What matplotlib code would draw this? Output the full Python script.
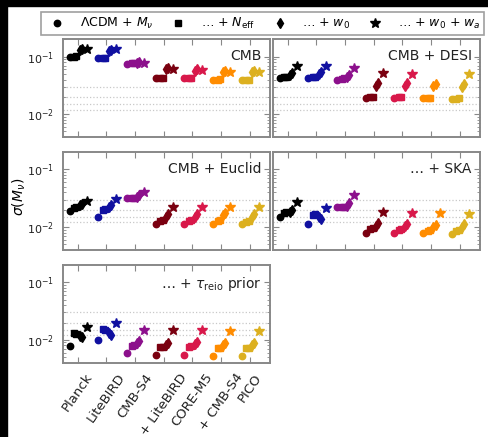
import numpy as np
import matplotlib
matplotlib.use("Agg")
import matplotlib.pyplot as plt
from matplotlib.patches import Rectangle

experiments = ["Planck", "LiteBIRD", "CMB-S4", "+ LiteBIRD", "CORE-M5", "+ CMB-S4", "PICO"]
colors = ["#000000", "#1010a0", "#8c108c", "#7a0010", "#d8184a", "#ff8c00", "#dcb020"]

# rows: circle, square, square, diamond, diamond, star  /  columns: experiments
cmb = [
    [0.098, 0.094, 0.075, 0.042, 0.042, 0.040, 0.039],
    [0.100, 0.095, 0.077, 0.042, 0.042, 0.040, 0.039],
    [0.101, 0.096, 0.078, 0.043, 0.043, 0.041, 0.040],
    [0.133, 0.125, 0.079, 0.061, 0.057, 0.054, 0.054],
    [0.138, 0.130, 0.080, 0.064, 0.060, 0.056, 0.056],
    [0.136, 0.134, 0.077, 0.061, 0.059, 0.055, 0.055],
]
cmb_desi = [
    [0.043, 0.043, 0.039, 0.0188, 0.019, 0.019, 0.018],
    [0.044, 0.044, 0.041, 0.0195, 0.0195, 0.019, 0.0185],
    [0.045, 0.045, 0.042, 0.020, 0.020, 0.0192, 0.019],
    [0.048, 0.050, 0.045, 0.031, 0.031, 0.031, 0.030],
    [0.051, 0.053, 0.048, 0.035, 0.035, 0.034, 0.034],
    [0.070, 0.070, 0.063, 0.051, 0.050, np.nan, 0.049],
]
cmb_euclid = [
    [0.0191, 0.0150, 0.0320, 0.0114, 0.0114, 0.0111, 0.0112],
    [0.0212, 0.0200, 0.0320, 0.0128, 0.0125, 0.0125, 0.0122],
    [0.0222, 0.0208, 0.0322, 0.0133, 0.0130, 0.0130, 0.0128],
    [0.0240, 0.0220, 0.0335, 0.0150, 0.0148, 0.0160, 0.0150],
    [0.0255, 0.0240, 0.0355, 0.0165, 0.0165, 0.0172, 0.0165],
    [0.0288, 0.0308, 0.0403, 0.0225, 0.0225, 0.0220, 0.0225],
]
ska = [
    [0.0150, 0.0114, 0.0219, 0.0080, 0.0080, 0.0080, 0.0076],
    [0.0172, 0.0160, 0.0220, 0.0092, 0.0089, 0.0086, 0.0085],
    [0.0180, 0.0165, 0.0224, 0.0097, 0.0093, 0.0090, 0.0088],
    [0.0185, 0.0150, 0.0235, 0.0105, 0.0104, 0.0098, 0.0100],
    [0.0195, 0.0138, 0.0260, 0.0115, 0.0114, 0.0110, 0.0112],
    [0.0268, 0.0210, 0.0367, 0.0179, 0.0172, 0.0172, 0.0168],
]
tau_prior = [
    [0.0079, 0.0100, 0.0058, 0.0055, 0.0055, 0.0053, 0.0053],
    [0.0130, 0.0153, 0.0079, 0.0074, 0.0075, 0.0071, 0.0071],
    [0.0125, 0.0148, 0.0081, 0.0076, 0.0077, 0.0073, 0.0073],
    [0.0118, 0.0130, 0.0088, 0.0082, 0.0085, 0.0082, 0.0082],
    [0.0110, 0.0122, 0.0094, 0.0088, 0.0090, 0.0088, 0.0088],
    [0.0168, 0.0194, 0.0149, 0.0147, 0.0149, 0.0143, 0.0145],
]
panels = [cmb, cmb_desi, cmb_euclid, ska, tau_prior]
titles = ["CMB", "CMB + DESI", "CMB + Euclid", "… + SKA", r"… + $\tau_{\rm reio}$ prior"]
ref_levels = [0.03, 0.02, 0.015, 0.012]

markers = ["o", "s", "s", "d", "d", "*"]
msizes = [4.6, 4.6, 4.6, 5.6, 5.6, 7]
offsets = [-0.28, -0.12, -0.04, 0.08, 0.15, 0.32]

fig, axes = plt.subplots(3, 2, figsize=(4.89, 4.37), dpi=100, sharex=True, sharey=True)
fig.subplots_adjust(left=0.1294, right=0.9816, top=0.910, bottom=0.170, wspace=0.016, hspace=0.155)

x = np.arange(len(experiments))
for k, data in enumerate(panels):
    ax = axes.flat[k]
    for lv in ref_levels:
        ax.axhline(lv, color="#c8c8c8", ls=":", lw=0.9, zorder=0)
    for i in range(len(experiments)):
        for j in range(6):
            ax.plot(x[i] + offsets[j], data[j][i], marker=markers[j], ms=msizes[j],
                    color=colors[i], mec=colors[i], ls="none")
    ax.text(0.96, 0.9, titles[k], transform=ax.transAxes, ha="right", va="top", fontsize=10, color="#222222")
    ax.set_yscale("log")
    ax.set_ylim(0.004, 0.2)
    ax.set_xlim(-0.5, 6.7)
    ax.set_xticks(x)
    ax.tick_params(which="both", direction="in", top=True, right=True, colors="#888888",
                   labelcolor="#222222", labelsize=8)
    ax.tick_params(which="major", length=4)
    ax.tick_params(which="minor", length=2)
    ax.tick_params(axis="y", pad=7)
    ax.tick_params(axis="x", pad=6)
    for s in ax.spines.values():
        s.set_color("#888888")
        s.set_linewidth(1.4)

axes[2, 1].axis("off")
axes[2, 0].set_xticklabels(experiments, rotation=55, ha="center", fontsize=9.5)
axes[1, 1].tick_params(labelbottom=False)
axes[2, 0].set_yticks([0.01, 0.1])

fig.text(0.04, 1 - 197 / 437, r"$\sigma(M_\nu)$", rotation=90, ha="center", va="center", fontsize=10)

handles = [plt.Line2D([], [], marker=m, ms=s, color="k", ls="none")
           for m, s in zip(["o", "s", "d", "*"], [4.6, 4.6, 5.6, 7])]
labels = [r"$\Lambda$CDM + $M_\nu$", r"… + $N_{\rm eff}$", r"… + $w_0$", r"… + $w_0$ + $w_a$"]
leg = fig.legend(handles, labels, loc="lower left", mode="expand",
                 bbox_to_anchor=(41 / 489, 1 - 35 / 437, 443 / 489, 23 / 437), ncol=4,
                 fancybox=False, edgecolor="#888888", fontsize=9, handletextpad=0.8,
                 columnspacing=1.0, borderpad=0.3, borderaxespad=0)
leg.get_frame().set_linewidth(1.2)

fig.add_artist(Rectangle((0, 0), 7 / 489, 1, transform=fig.transFigure, color="k", zorder=10))
fig.add_artist(Rectangle((0, 1 - 6 / 437), 1, 6 / 437, transform=fig.transFigure, color="k", zorder=10))

fig.savefig("out.png", dpi=100)
